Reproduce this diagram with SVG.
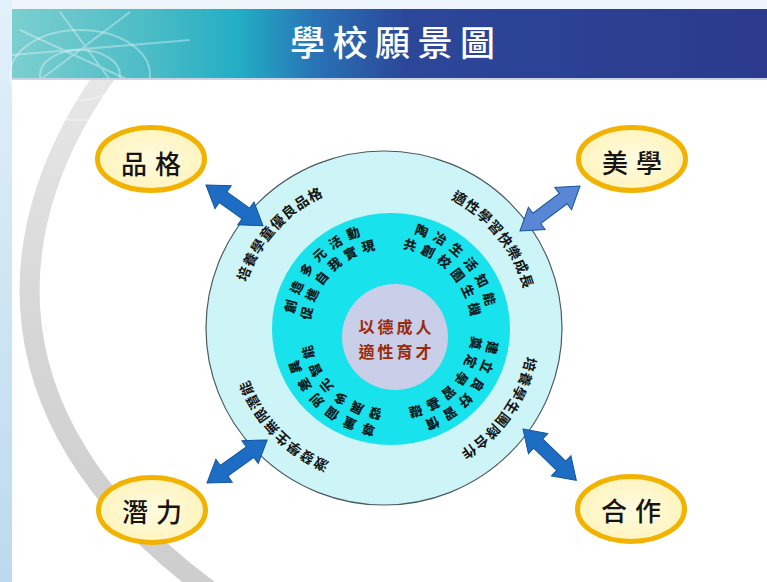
<svg xmlns="http://www.w3.org/2000/svg" width="767" height="582" viewBox="0 0 767 582">
<defs>
<style>
.ring{font-family:"Noto Sans CJK TC","Noto Sans CJK SC",sans-serif;font-weight:700;font-size:14px;fill:#151515;letter-spacing:1px}
.inr{font-family:"Noto Sans CJK TC","Noto Sans CJK SC",sans-serif;font-weight:900;font-size:13px;fill:#0b1d1f}
.lbl{font-family:"Noto Sans CJK TC","Noto Sans CJK SC",sans-serif;font-weight:500;font-size:26px;fill:#151515;letter-spacing:8px;text-anchor:middle}
.core{font-family:"Noto Sans CJK TC","Noto Sans CJK SC",sans-serif;font-weight:700;font-size:16px;fill:#9a2a0e;letter-spacing:3px;text-anchor:middle}
.oval{fill:url(#ovalFill);stroke:#f2b200;stroke-width:5}
.arrow{stroke:#13559c;stroke-width:1}
.globe{fill:none;stroke:#ffffff;stroke-opacity:0.35;stroke-width:2}
</style>
<linearGradient id="hdr" x1="0" y1="0" x2="1" y2="0">
<stop offset="0" stop-color="#7ccfcf"/>
<stop offset="0.18" stop-color="#4cbcc6"/>
<stop offset="0.3" stop-color="#22aec4"/>
<stop offset="0.4" stop-color="#2874b6"/>
<stop offset="0.52" stop-color="#2c4799"/>
<stop offset="1" stop-color="#2b3a8c"/>
</linearGradient>
<linearGradient id="band" x1="0" y1="0" x2="0" y2="1">
<stop offset="0" stop-color="#e8e8e8"/>
<stop offset="0.5" stop-color="#d6d6d6"/>
<stop offset="1" stop-color="#cdcdcd"/>
</linearGradient>
<linearGradient id="side" x1="0" y1="0" x2="0" y2="1">
<stop offset="0" stop-color="#e2f0fa"/>
<stop offset="0.5" stop-color="#cfe5f4"/>
<stop offset="1" stop-color="#bcd9ef"/>
</linearGradient>
<radialGradient id="ovalFill" cx="0.5" cy="0.5" r="0.6">
<stop offset="0" stop-color="#fffbe0"/>
<stop offset="1" stop-color="#fff3b8"/>
</radialGradient>
<path id="po" d="M 529 328 A 145 145 0 1 1 239 328 A 145 145 0 1 1 529 328"/>
<path id="pa" d="M 489 329 A 98 98 0 1 1 293 329 A 98 98 0 1 1 489 329"/>
<path id="pb" d="M 472 329 A 81 81 0 1 1 310 329 A 81 81 0 1 1 472 329"/>
</defs>

<rect x="0" y="0" width="767" height="582" fill="#ffffff"/>
<rect x="0" y="0" width="767" height="9" fill="#eef5fa"/>
<rect x="0" y="0" width="12" height="582" fill="url(#side)"/>

<path d="M 115 62 C -5 220, -25 430, 230 605" fill="none" stroke="url(#band)" stroke-width="20"/>

<g id="header">
<rect x="12" y="9" width="755" height="71" fill="url(#hdr)"/>
<ellipse class="globe" cx="80" cy="75" rx="70" ry="45"/>
<ellipse class="globe" cx="80" cy="75" rx="40" ry="25"/>
<path class="globe" d="M 20 30 L 150 90 M 60 12 L 110 80 M 130 12 L 40 80 M 12 55 L 190 40"/>
<rect x="12" y="78" width="755" height="2" fill="#c9d3e6"/>
<text x="290" y="56" font-family="Noto Sans CJK TC, Noto Sans CJK SC, sans-serif" font-weight="500" font-size="35" letter-spacing="7.5" fill="#ffffff">學校願景圖</text>
</g>

<g id="vision-circle">
<ellipse cx="384" cy="328" rx="178" ry="177" fill="#cdf4f7" stroke="#4a5a60" stroke-width="1.2"/>
<ellipse cx="391" cy="329" rx="119" ry="116" fill="#18e2ec"/>
<circle cx="395" cy="337" r="53" fill="#c9cfe8"/>
<text class="core" x="396.5" y="333">以德成人</text>
<text class="core" x="396.5" y="358">適性育才</text>
</g>

<g id="outer-ring-texts">
<text class="ring"><textPath href="#po" startOffset="561.8" text-anchor="middle">培養學童優良品格</textPath></text>
<text class="ring"><textPath href="#po" startOffset="812.4" text-anchor="middle">適性學習快樂成長</textPath></text>
<text class="ring"><textPath href="#po" startOffset="88.3" text-anchor="middle">培養學生團隊合作</textPath></text>
<text class="ring"><textPath href="#po" startOffset="343.4" text-anchor="middle">激發學生無限潛能</textPath></text>
</g>

<g id="inner-ring-texts">
<text class="inr" letter-spacing="6"><textPath href="#pa" startOffset="379.6" text-anchor="middle">創造多元活動</textPath></text>
<text class="inr" letter-spacing="5"><textPath href="#pb" startOffset="316.7" text-anchor="middle">促進自我實現</textPath></text>
<text class="inr" letter-spacing="6"><textPath href="#pa" startOffset="541.3" text-anchor="middle">陶冶生活知能</textPath></text>
<text class="inr" letter-spacing="5"><textPath href="#pb" startOffset="446.7" text-anchor="middle">共創校園生機</textPath></text>
<text class="inr" letter-spacing="6"><textPath href="#pa" startOffset="68.4" text-anchor="middle">建立良好習慣</textPath></text>
<text class="inr" letter-spacing="5"><textPath href="#pb" startOffset="60.8" text-anchor="middle">奠定學習基礎</textPath></text>
<text class="inr" letter-spacing="6"><textPath href="#pa" startOffset="225.8" text-anchor="middle">尊重個別差異</textPath></text>
<text class="inr" letter-spacing="5"><textPath href="#pb" startOffset="189.4" text-anchor="middle">發展多元智能</textPath></text>
</g>

<g id="connectors">
<path class="arrow" fill="#1c6dc3" transform="translate(206,185) rotate(35.5)" d="M0,0 L21,-14 L21,-6.5 L49,-6.5 L49,-14 L70,0 L49,14 L49,6.5 L21,6.5 L21,14 Z"/>
<path class="arrow" fill="#5a87d5" stroke="#4a72b8" transform="translate(520,231) rotate(-36.9)" d="M0,0 L21,-14 L21,-6.5 L54,-6.5 L54,-14 L75,0 L54,14 L54,6.5 L21,6.5 L21,14 Z"/>
<path class="arrow" fill="#1c6dc3" transform="translate(207,483) rotate(-35.6)" d="M0,0 L21,-14 L21,-6.5 L53,-6.5 L53,-14 L74,0 L53,14 L53,6.5 L21,6.5 L21,14 Z"/>
<path class="arrow" fill="#1c6dc3" transform="translate(523,429) rotate(43.9)" d="M0,0 L21,-14 L21,-6.5 L53,-6.5 L53,-14 L74,0 L53,14 L53,6.5 L21,6.5 L21,14 Z"/>
</g>

<g id="node-pinge">
<ellipse class="oval" cx="151" cy="159" rx="53.5" ry="31.5"/>
<text class="lbl" x="155" y="174">品格</text>
</g>
<g id="node-meixue">
<ellipse class="oval" cx="632" cy="159" rx="53.5" ry="31.5"/>
<text class="lbl" x="636" y="173">美學</text>
</g>
<g id="node-qianli">
<ellipse class="oval" cx="152" cy="510" rx="53.5" ry="32.5"/>
<text class="lbl" x="156" y="522">潛力</text>
</g>
<g id="node-hezuo">
<ellipse class="oval" cx="631" cy="509" rx="53.5" ry="32.5"/>
<text class="lbl" x="635" y="521">合作</text>
</g>
</svg>
